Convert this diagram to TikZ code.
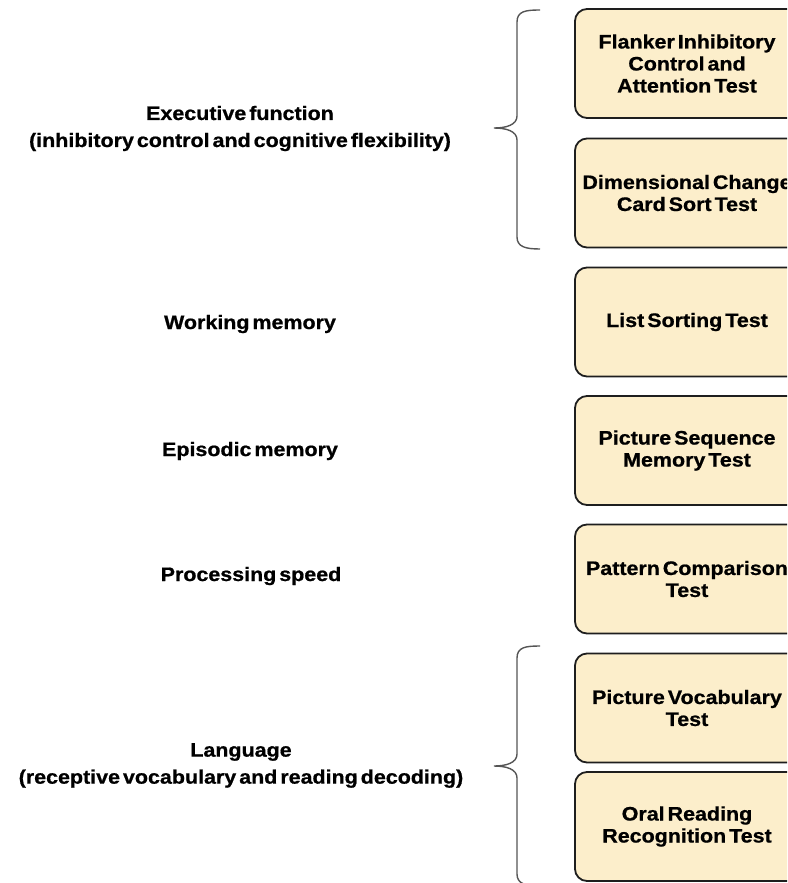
\documentclass[tikz,border=0pt]{standalone}
\usepackage{fontspec}
\setmainfont{Liberation Sans}[FakeStretch=1.1,WordSpace=0.5,BoldFeatures={FakeBold=0.8}]
\definecolor{boxfill}{HTML}{FCEECB}
\definecolor{boxline}{HTML}{1E1E1E}
\definecolor{bracecol}{HTML}{555555}
\begin{document}
\begin{tikzpicture}[x=1pt,y=-1pt,
  box/.style={draw=boxline, line width=1.8pt, fill=boxfill, rounded corners=12pt,
    minimum width=224pt, minimum height=109pt, inner xsep=0pt, align=center,
    font=\bfseries\fontsize{19.5}{22}\selectfont, text=black},
  lbl/.style={align=center, inner sep=0pt, font=\bfseries\fontsize{19.5}{27}\selectfont, text=black},
  bracepath/.style={draw=bracecol, line width=1.4pt}]
\useasboundingbox (0,0) rectangle (787,883);
\clip (0,0) rectangle (787,883);
\fill[white] (0,0) rectangle (787,883);
% boxes
\node[box] (b1) at (687,63.5) {Flanker Inhibitory\\Control and\\Attention Test};
\node[box] (b2) at (687,193) {Dimensional Change\\Card Sort Test};
\node[box] (b3) at (687,322) {List Sorting Test};
\node[box] (b4) at (687,450.5) {Picture Sequence\\Memory Test};
\node[box] (b5) at (687,579) {Pattern Comparison\\Test};
\node[box] (b6) at (687,708) {Picture Vocabulary\\Test};
\node[box] (b7) at (687,826.5) {Oral Reading\\Recognition Test};
% labels
\node[lbl] (l1) at (240,128.5) {Executive function\\(inhibitory control and cognitive flexibility)};
\node[lbl] (l2) at (250,324) {Working memory};
\node[lbl] (l3) at (250,451) {Episodic memory};
\node[lbl] (l4) at (251,576) {Processing speed};
\node[lbl] (l5) at (241,765.5) {Language\\(receptive vocabulary and reading decoding)};
% braces
\draw[bracepath] (540,10) .. controls (526,10) and (517,11) .. (517,22) -- (517,116)
  .. controls (517,125) and (506,128) .. (494,128)
  .. controls (506,128) and (517,131) .. (517,140) -- (517,237)
  .. controls (517,247) and (526,249) .. (540,249);
\draw[bracepath] (540,646) .. controls (526,646) and (517,647) .. (517,658) -- (517,754)
  .. controls (517,763) and (506,766) .. (494,766)
  .. controls (506,766) and (517,769) .. (517,778) -- (517,874)
  .. controls (517,884) and (526,886) .. (540,886);
\end{tikzpicture}
\end{document}
